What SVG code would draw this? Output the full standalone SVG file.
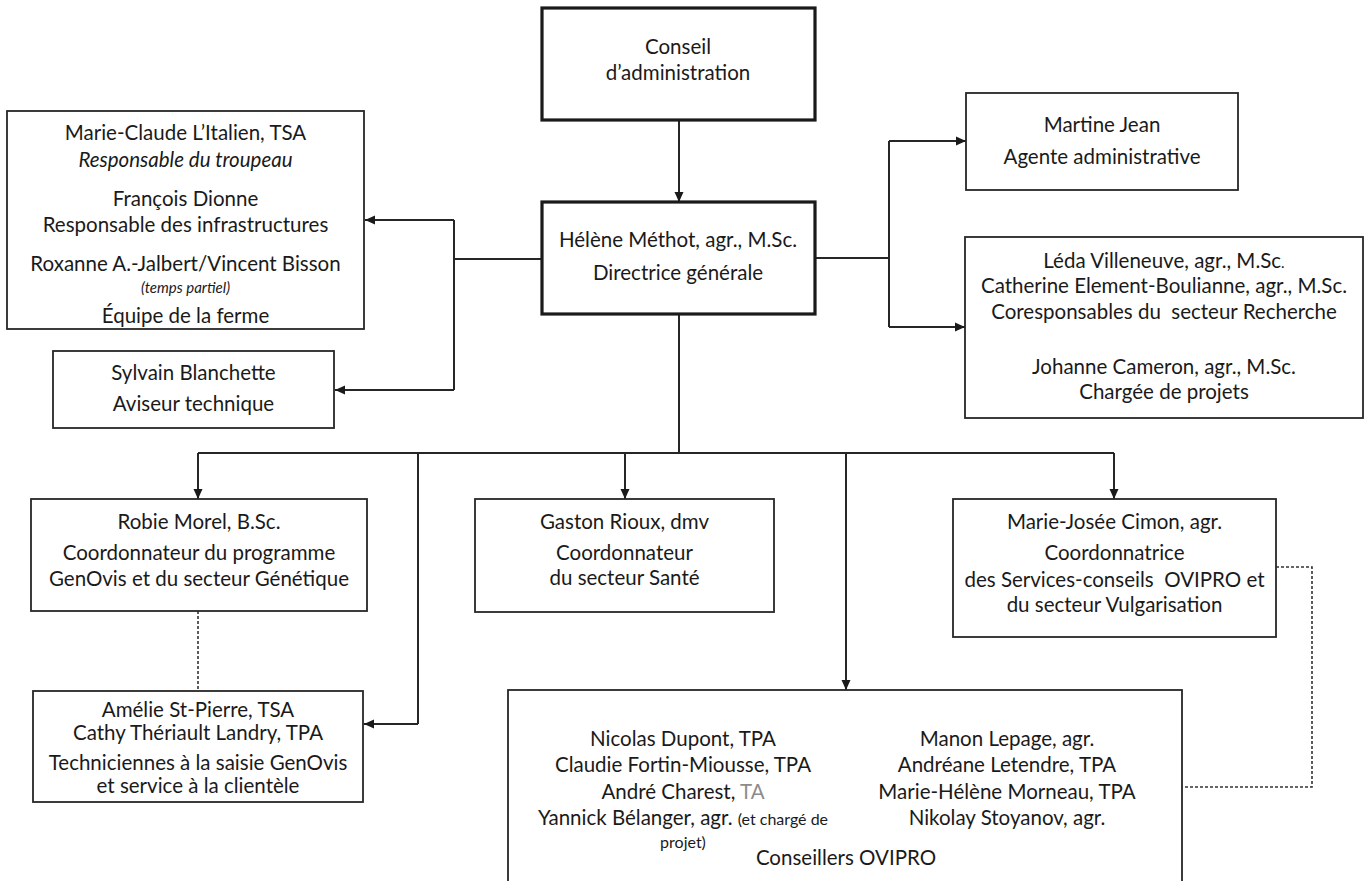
<svg xmlns="http://www.w3.org/2000/svg" width="1370" height="881" viewBox="0 0 1370 881">
<defs>
<style>
.box{fill:#fff;stroke:#262626;stroke-width:1.8}
.thick{fill:#fff;stroke:#1a1a1a;stroke-width:3.2}
.ln{fill:none;stroke:#262626;stroke-width:2}
.dash{fill:none;stroke:#333;stroke-width:1.6;stroke-dasharray:3 2}
text{font-family:Lato,"Liberation Sans",sans-serif;font-size:20.5px;fill:#1a1a1a;text-anchor:middle}
.it{font-style:italic}
.sm{font-size:15px}
.s16{font-size:16px}
</style>
<marker id="ah" viewBox="0 0 10 10" refX="10" refY="5" markerWidth="10" markerHeight="10" markerUnits="userSpaceOnUse" orient="auto">
<path d="M0,0.5 L10,5 L0,9.5 z" fill="#1a1a1a"/>
</marker>
</defs>
<rect width="1370" height="881" fill="#fff"/>

<g id="connectors">
<line class="ln" x1="679" y1="120" x2="679" y2="202" marker-end="url(#ah)"/>
<polyline class="ln" points="542,259 454,259"/>
<polyline class="ln" points="454,220 454,390"/>
<line class="ln" x1="454" y1="220" x2="365" y2="220" marker-end="url(#ah)"/>
<line class="ln" x1="454" y1="390" x2="335" y2="390" marker-end="url(#ah)"/>
<polyline class="ln" points="815,258 889,258"/>
<polyline class="ln" points="889,141 889,327"/>
<line class="ln" x1="889" y1="141" x2="966" y2="141" marker-end="url(#ah)"/>
<line class="ln" x1="889" y1="327" x2="965" y2="327" marker-end="url(#ah)"/>
<line class="ln" x1="679" y1="314" x2="679" y2="453"/>
<line class="ln" x1="198" y1="453" x2="1114" y2="453"/>
<line class="ln" x1="198" y1="453" x2="198" y2="499" marker-end="url(#ah)"/>
<line class="ln" x1="625" y1="453" x2="625" y2="499" marker-end="url(#ah)"/>
<line class="ln" x1="1114" y1="453" x2="1114" y2="499" marker-end="url(#ah)"/>
<line class="ln" x1="846" y1="453" x2="846" y2="690" marker-end="url(#ah)"/>
<polyline class="ln" points="418,453 418,724"/>
<line class="ln" x1="418" y1="724" x2="364" y2="724" marker-end="url(#ah)"/>
<line class="dash" x1="198" y1="611" x2="198" y2="691"/>
<polyline class="dash" points="1276,567 1312,567 1312,787 1182,787"/>
</g>

<g id="conseil">
<rect class="thick" x="542" y="8" width="273" height="112"/>
<text x="678" y="54">Conseil</text>
<text x="678" y="80">d’administration</text>
</g>

<g id="direction">
<rect class="thick" x="542" y="202" width="273" height="112"/>
<text x="678" y="247">Hélène Méthot, agr., M.Sc.</text>
<text x="678" y="280">Directrice générale</text>
</g>

<g id="ferme">
<rect class="box" x="7" y="111" width="357" height="218"/>
<text x="185.5" y="140">Marie-Claude L’Italien, TSA</text>
<text x="185.5" y="167" class="it">Responsable du troupeau</text>
<text x="185.5" y="206">François Dionne</text>
<text x="185.5" y="232">Responsable des infrastructures</text>
<text x="185.5" y="271">Roxanne A.-Jalbert/Vincent Bisson</text>
<text x="185.5" y="293" class="it sm">(temps partiel)</text>
<text x="185.5" y="323">Équipe de la ferme</text>
</g>

<g id="sylvain">
<rect class="box" x="53" y="351" width="281" height="77"/>
<text x="193.5" y="380">Sylvain Blanchette</text>
<text x="193.5" y="411">Aviseur technique</text>
</g>

<g id="martine">
<rect class="box" x="966" y="93" width="272" height="97"/>
<text x="1102" y="132">Martine Jean</text>
<text x="1102" y="164">Agente administrative</text>
</g>

<g id="recherche">
<rect class="box" x="965" y="237" width="398" height="181"/>
<text x="1164" y="268">Léda Villeneuve, agr., M.Sc<tspan class="sm">.</tspan></text>
<text x="1164" y="293">Catherine Element-Boulianne, agr., M.Sc.</text>
<text x="1164" y="319" xml:space="preserve">Coresponsables du  secteur Recherche</text>
<text x="1164" y="374">Johanne Cameron, agr., M.Sc.</text>
<text x="1164" y="399">Chargée de projets</text>
</g>

<g id="robie">
<rect class="box" x="31" y="499" width="336" height="112"/>
<text x="199" y="529">Robie Morel, B.Sc.</text>
<text x="199" y="560">Coordonnateur du programme</text>
<text x="199" y="586">GenOvis et du secteur Génétique</text>
</g>

<g id="gaston">
<rect class="box" x="475" y="499" width="299" height="113"/>
<text x="624.5" y="529">Gaston Rioux, dmv</text>
<text x="624.5" y="560">Coordonnateur</text>
<text x="624.5" y="585">du secteur Santé</text>
</g>

<g id="mariejosee">
<rect class="box" x="953" y="499" width="323" height="138"/>
<text x="1114.5" y="529">Marie-Josée Cimon, agr.</text>
<text x="1114.5" y="560">Coordonnatrice</text>
<text x="1114.5" y="587" xml:space="preserve">des Services-conseils  OVIPRO et</text>
<text x="1114.5" y="612">du secteur Vulgarisation</text>
</g>

<g id="amelie">
<rect class="box" x="33" y="691" width="330" height="111"/>
<text x="198" y="717">Amélie St-Pierre, TSA</text>
<text x="198" y="740">Cathy Thériault Landry, TPA</text>
<text x="198" y="770">Techniciennes à la saisie GenOvis</text>
<text x="198" y="793">et service à la clientèle</text>
</g>

<g id="conseillers">
<rect class="box" x="508" y="690" width="674" height="200"/>
<text x="683" y="746">Nicolas Dupont, TPA</text>
<text x="683" y="772">Claudie Fortin-Miousse, TPA</text>
<text x="683" y="799">André Charest, <tspan fill="#8c8c8c">TA</tspan></text>
<text x="683" y="825">Yannick Bélanger, agr. <tspan class="s16">(et chargé de</tspan></text>
<text x="683" y="848" class="s16">projet)</text>
<text x="1007" y="746">Manon Lepage, agr.</text>
<text x="1007" y="772">Andréane Letendre, TPA</text>
<text x="1007" y="799">Marie-Hélène Morneau, TPA</text>
<text x="1007" y="825">Nikolay Stoyanov, agr.</text>
<text x="846" y="865">Conseillers OVIPRO</text>
</g>
</svg>
